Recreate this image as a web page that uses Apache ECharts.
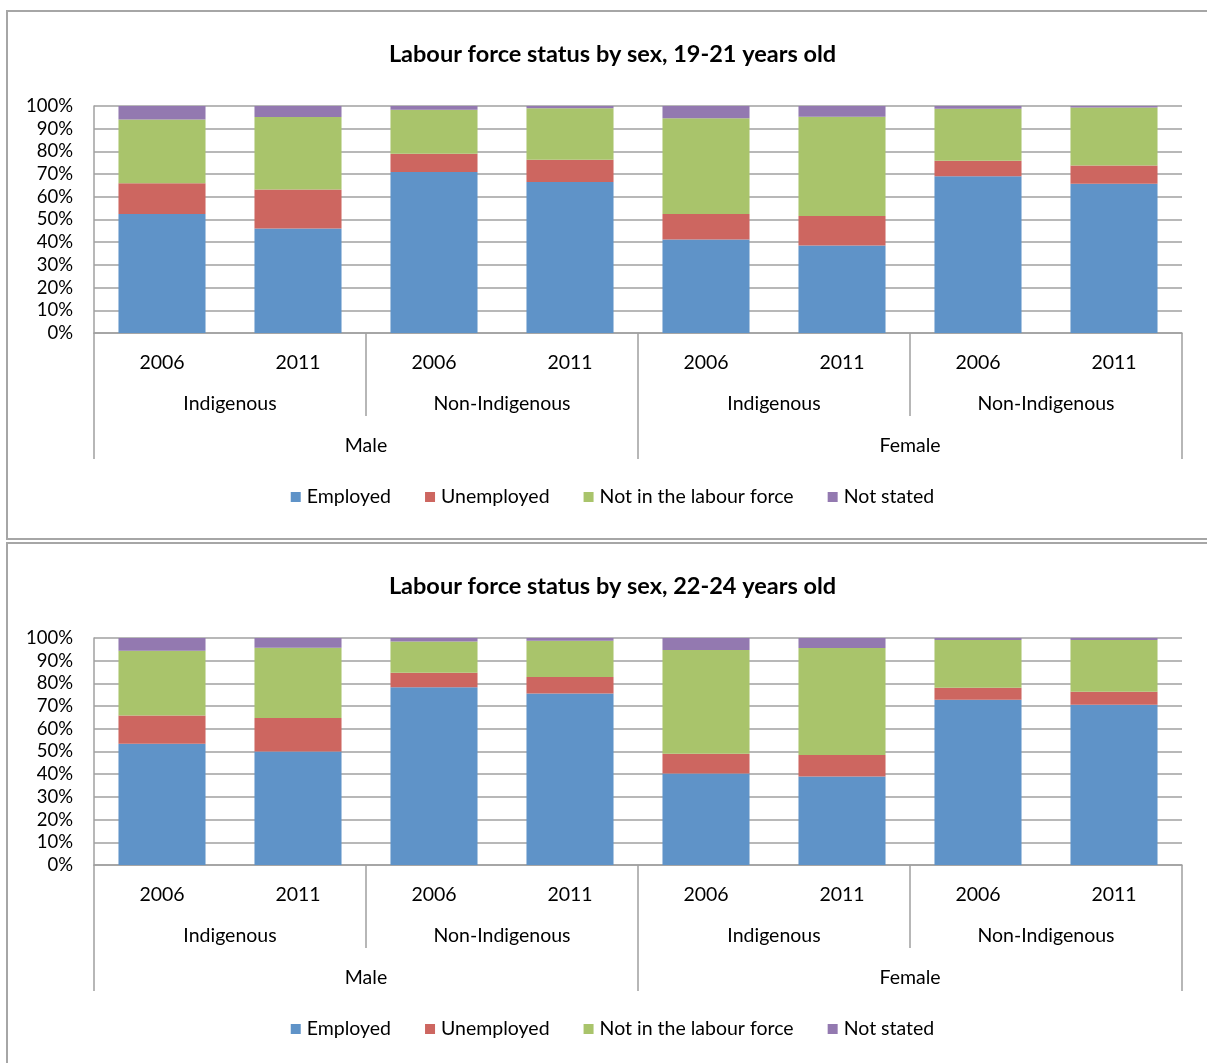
<!DOCTYPE html>
<html>
<head>
<meta charset="utf-8">
<title>Labour force status by sex</title>
<script src="https://cdn.jsdelivr.net/npm/echarts@6/dist/echarts.min.js"></script>
<style>
  html, body { margin: 0; padding: 0; background: #fff; overflow: hidden; }
  body { width: 1207px; height: 1063px; position: relative; }
  .box { position: absolute; left: 6px; width: 1213px; border: 2px solid #a6a6a6; box-sizing: border-box; background: #fff; }
  .chart { width: 100%; height: 100%; }
</style>
</head>
<body>
<div class="box" style="top:10px; height:530px;"><div id="c1" class="chart"></div></div>
<div class="box" style="top:542px; height:540px;"><div id="c2" class="chart"></div></div>
<script>
// Category levels shown under the bars
const years = ['2006', '2011', '2006', '2011', '2006', '2011', '2006', '2011'];
const groups = ['Indigenous', 'Non-Indigenous', 'Indigenous', 'Non-Indigenous'];
const sexes = ['Male', 'Female'];
const statusNames = ['Employed', 'Unemployed', 'Not in the labour force', 'Not stated'];
const statusColors = ['#5F93C8', '#CD6660', '#A9C46B', '#9379B0'];

// Percentages, age 19-21 (order: M Ind 06, M Ind 11, M Non 06, M Non 11, F Ind 06, F Ind 11, F Non 06, F Non 11)
const employed1921    = [52.4, 46.0, 70.9, 66.5, 41.2, 38.6, 69.0, 65.7];
const unemployed1921  = [13.6, 17.2,  8.1,  9.8, 11.2, 12.9,  6.9,  8.1];
const notInLF1921     = [28.0, 32.0, 19.4, 22.7, 42.2, 43.8, 22.9, 25.5];
const notStated1921   = [ 6.0,  4.8,  1.6,  1.0,  5.4,  4.7,  1.2,  0.7];

// Percentages, age 22-24
const employed2224    = [53.4, 50.0, 78.3, 75.6, 40.3, 39.0, 72.8, 70.6];
const unemployed2224  = [12.5, 14.8,  6.4,  7.2,  8.7,  9.5,  5.3,  5.7];
const notInLF2224     = [28.5, 30.9, 13.8, 16.0, 45.7, 47.1, 21.0, 22.8];
const notStated2224   = [ 5.6,  4.3,  1.5,  1.2,  5.3,  4.4,  0.9,  0.9];

const yTicks = { min: 0, max: 100, interval: 10 };

const FONT = 'Lato';
const LABEL_SIZE = 19.5;
const GRID_GRAY = '#a0a0a0';

function buildOption(title, seriesValues) {
  const catAxisBase = {
    type: 'category',
    position: 'bottom',
    offset: 0,
    boundaryGap: true,
    axisLine: { show: false },
    splitLine: { show: false },
    axisLabel: { color: '#000', fontFamily: FONT, fontSize: LABEL_SIZE, interval: 0 },
    axisPointer: { show: false }
  };
  return {
    animation: false,
    textStyle: { fontFamily: FONT },
    title: {
      text: title,
      left: 'center',
      top: 25,
      textStyle: { fontFamily: FONT, fontSize: 23.5, fontWeight: 'bold', color: '#000' }
    },
    legend: {
      data: statusNames,
      left: 'center',
      top: 470,
      icon: 'rect',
      itemWidth: 10,
      itemHeight: 10,
      itemGap: 34,
      textStyle: { fontFamily: FONT, fontSize: LABEL_SIZE, color: '#000', padding: [0, 0, 0, 1] }
    },
    grid: { left: 86, top: 94, width: 1088, height: 227, containLabel: false },
    xAxis: [
      Object.assign({}, catAxisBase, {
        data: years,
        axisLine: { show: true, lineStyle: { color: GRID_GRAY, width: 1.5 } },
        axisTick: { show: false },
        axisLabel: Object.assign({}, catAxisBase.axisLabel, { margin: 20 })
      }),
      Object.assign({}, catAxisBase, {
        data: groups,
        axisTick: { show: true, length: 83, lineStyle: { color: GRID_GRAY, width: 1.5 } },
        axisLabel: Object.assign({}, catAxisBase.axisLabel, { margin: 61 })
      }),
      Object.assign({}, catAxisBase, {
        data: sexes,
        axisTick: { show: true, length: 126, lineStyle: { color: GRID_GRAY, width: 1.5 } },
        axisLabel: Object.assign({}, catAxisBase.axisLabel, { margin: 103 })
      })
    ],
    yAxis: {
      type: 'value',
      min: yTicks.min,
      max: yTicks.max,
      interval: yTicks.interval,
      axisLine: { show: true, lineStyle: { color: GRID_GRAY, width: 1.5 } },
      axisTick: { show: false },
      splitLine: { show: true, lineStyle: { color: GRID_GRAY, width: 1.5 } },
      axisLabel: {
        formatter: '{value}%',
        color: '#000',
        fontFamily: FONT,
        fontSize: 18.5,
        margin: 21
      }
    },
    series: statusNames.map((name, i) => ({
      name: name,
      type: 'bar',
      stack: 'total',
      xAxisIndex: 0,
      barCategoryGap: '36%',
      itemStyle: { color: statusColors[i] },
      emphasis: { disabled: true },
      data: seriesValues[i]
    }))
  };
}

const chart1 = echarts.init(document.getElementById('c1'), null, { renderer: 'canvas' });
chart1.setOption(buildOption('Labour force status by sex, 19-21 years old',
  [employed1921, unemployed1921, notInLF1921, notStated1921]));

const chart2 = echarts.init(document.getElementById('c2'), null, { renderer: 'canvas' });
chart2.setOption(buildOption('Labour force status by sex, 22-24 years old',
  [employed2224, unemployed2224, notInLF2224, notStated2224]));
</script>
</body>
</html>
